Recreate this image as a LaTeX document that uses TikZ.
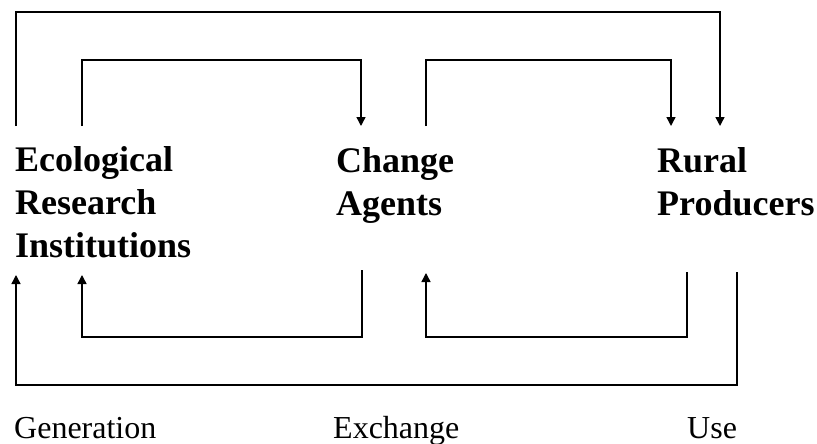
\documentclass[tikz,border=0pt]{standalone}
\usepackage{fontspec}
\setmainfont{Liberation Serif}
\usetikzlibrary{arrows.meta}
\tikzset{
  flow/.style={line width=1.4pt, -{Triangle[length=9pt,width=9pt]}},
  actor/.style={inner sep=0pt, anchor=base west, align=left, font=\fontsize{36}{43}\selectfont\bfseries},
  stage/.style={inner sep=0pt, anchor=base west, font=\fontsize{32}{38}\selectfont},
}

\begin{document}
\begin{tikzpicture}[x=1pt,y=-1pt]
	%%%%% START %%%%%
	\useasboundingbox (0,0) rectangle (817,444);

	% base anchor sits on the last line
	\node[actor] (eco) at (15,257) {Ecological\\Research\\Institutions};
	\node[actor] (chg) at (336,215) {Change\\Agents};
	\node[actor] (rur) at (657,215) {Rural\\Producers};

	\node[stage] (gen) at (14,438) {Generation};
	\node[stage] (exc) at (333,438) {Exchange};
	\node[stage] (use) at (687,438) {Use};

	% ends above the actors
	\coordinate (ecoT1) at (16,126);
	\coordinate (ecoT2) at (82,126);
	\coordinate (chgT1) at (361,126);
	\coordinate (chgT2) at (426,126);
	\coordinate (rurT1) at (671,126);
	\coordinate (rurT2) at (720,126);

	% ends below the actors
	\coordinate (ecoB1) at (16,275);
	\coordinate (ecoB2) at (82,275);
	\coordinate (chgB1) at (362,270);
	\coordinate (chgB2) at (426,273);
	\coordinate (rurB1) at (687,272);
	\coordinate (rurB2) at (737,272);

	\draw[flow] (ecoT1) -- ++(0,-114) -| (rurT2);
	\draw[flow] (ecoT2) -- ++(0,-66) -| (chgT1);
	\draw[flow] (chgT2) -- ++(0,-66) -| (rurT1);

	\draw[flow] (chgB1) -- ++(0,67) -| (ecoB2);
	\draw[flow] (rurB1) -- ++(0,65) -| (chgB2);
	\draw[flow] (rurB2) -- ++(0,113) -| (ecoB1);
	%%%%% END %%%%%
\end{tikzpicture}
\end{document}
